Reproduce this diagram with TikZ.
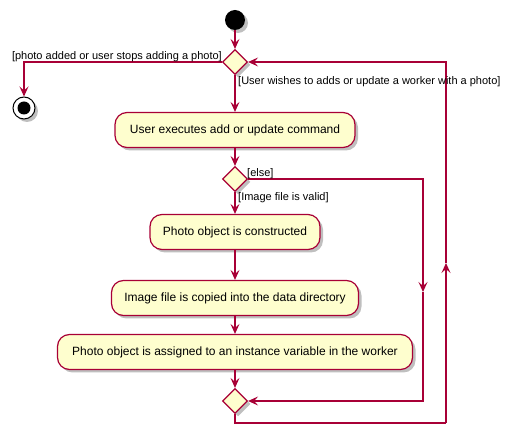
\documentclass[tikz,border=0pt]{standalone}
\usepackage{fontspec}
\setmainfont{Liberation Sans}
\usetikzlibrary{shapes.geometric,arrows.meta,shadows}
\definecolor{umlred}{HTML}{A80036}
\definecolor{umlfill}{HTML}{FEFECE}
\begin{document}
\begin{tikzpicture}[x=1pt,y=-1pt,
  shad/.style={drop shadow={shadow xshift=3pt,shadow yshift=-3pt,opacity=0.25,fill=black}},
  act/.style={draw=umlred,fill=umlfill,line width=1.2pt,rounded corners=12pt,minimum height=35pt,inner xsep=4pt,shad,font=\fontsize{12}{14}\selectfont},
  dec/.style={diamond,draw=umlred,fill=umlfill,line width=1.2pt,minimum width=25pt,minimum height=25pt,inner sep=0pt,aspect=1,shad},
  flow/.style={draw=umlred,line width=1.1pt,-{Stealth[length=10pt,width=9pt,inset=4pt]}},
  line/.style={draw=umlred,line width=1.1pt},
  lbl/.style={font=\fontsize{11}{13}\selectfont,inner sep=0pt},
]
\useasboundingbox (0,0) rectangle (515,446);
\node[circle,fill=black,minimum size=20pt,inner sep=0pt,shad] (start) at (235,20) {};
\node[dec] (d1) at (235,62) {};
\node[circle,draw=black,line width=1pt,fill=white,minimum size=22pt,inner sep=0pt,shad] (stop) at (24,108) {};
\node[circle,fill=black,minimum size=13pt,inner sep=0pt] (stopin) at (stop.center) {};
\node[act,minimum width=240pt] (a1) at (235,130) {User executes add or update command};
\node[dec] (d2) at (235,179) {};
\node[act,minimum width=170pt] (a2) at (235,232) {Photo object is constructed};
\node[act,minimum width=247pt] (a3) at (235,298) {Image file is copied into the data directory};
\node[act,minimum width=355pt] (a4) at (235,352) {Photo object is assigned to an instance variable in the worker};
\node[dec] (m) at (235,401) {};
\coordinate (lb) at (446,423);
\coordinate (lmid) at (446,263);
\coordinate (emid) at (423,292);

\draw[flow] (start) -- (d1.north);
\draw[flow] (d1.west) -| (stop.north);
\draw[flow] (d1.south) -- (a1.north);
\draw[flow] (a1.south) -- (d2.north);
\draw[flow] (d2.south) -- (a2.north);
\draw[flow] (a2.south) -- (a3.north);
\draw[flow] (a3.south) -- (a4.north);
\draw[flow] (a4.south) -- (m.north);
\draw[flow] (d2.east) -| (emid);
\draw[flow] (emid) |- (m.east);
\draw[line] (m.south) |- (lb);
\draw[flow] (lb) -- (lmid);
\draw[flow] (lmid) |- (d1.east);

\node[lbl,anchor=base east] (l1) at (222,60) {[photo added or user stops adding a photo]};
\node[lbl,anchor=base west] (l2) at (238,85) {[User wishes to adds or update a worker with a photo]};
\node[lbl,anchor=base west] (l3) at (247,177) {[else]};
\node[lbl,anchor=base west] (l4) at (238,201) {[Image file is valid]};
\end{tikzpicture}
\end{document}
